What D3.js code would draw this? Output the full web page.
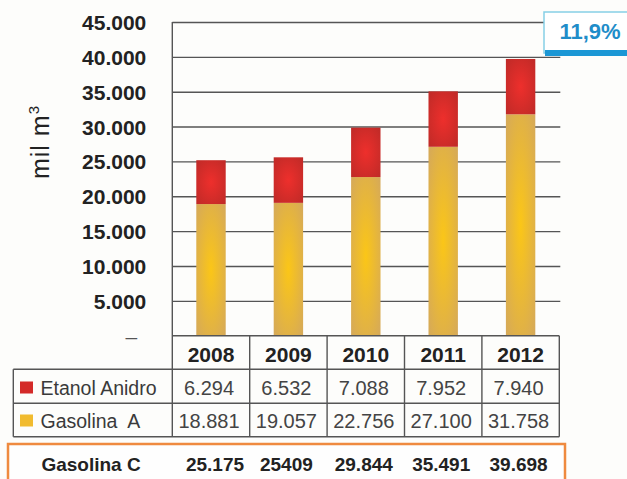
<!DOCTYPE html>
<html>
<head>
<meta charset="utf-8">
<script src="https://cdn.jsdelivr.net/npm/d3@7"></script>
<style>
  html, body { margin: 0; padding: 0; background: #fdfdfb; }
  svg { display: block; font-family: "Liberation Sans", Arial, sans-serif; }
</style>
</head>
<body>
<svg id="chart" width="627" height="479"></svg>
<script>
// Consumo de gasolina C (mil m³): gasolina A + etanol anidro
const years = ["2008", "2009", "2010", "2011", "2012"];
const etanolAnidro = [6294, 6532, 7088, 7952, 7940];
const gasolinaA = [18881, 19057, 22756, 27100, 31758];
const gasolinaCLabels = ["25.175", "25409", "29.844", "35.491", "39.698"];
const yTicks = [0, 5000, 10000, 15000, 20000, 25000, 30000, 35000, 40000, 45000];
const seriesNames = ["Etanol Anidro", "Gasolina  A"];
const growthLabel = "11,9%";

const ptBR = d3.formatLocale({ decimal: ",", thousands: ".", grouping: [3], currency: ["R$", ""] });
const fmt = ptBR.format(",d");

const svg = d3.select("#chart");

const plotLeft = 172.3, plotRight = 559.3, plotTop = 22, plotBase = 335.7;
const rowLines = [plotBase, 369.3, 403.3, 436.7];
const legendLeft = 13.3;
const ink = "#222", gridColor = "#555";

const x = d3.scaleBand().domain(years).range([plotLeft, plotRight]).paddingInner(0).paddingOuter(0);
const y = d3.scaleLinear().domain([0, 45000]).range([plotBase, plotTop]);

// gradients for the bar segments
const defs = svg.append("defs");
function radial(id, inner, outer) {
  const g = defs.append("radialGradient").attr("id", id)
    .attr("cx", "50%").attr("cy", "50%").attr("r", "72%");
  g.append("stop").attr("offset", "0%").attr("stop-color", inner);
  g.append("stop").attr("offset", "100%").attr("stop-color", outer);
}
radial("gGas", "#fbc617", "#d4a85c");
radial("gEta", "#ee2f2c", "#bd2a27");

// gridlines + tick labels
const yAxis = d3.axisLeft(y)
  .tickValues(yTicks)
  .tickSize(-(plotRight - plotLeft + 1))
  .tickPadding(26)
  .tickFormat(d => d === 0 ? "–" : fmt(d));

const gAxis = svg.append("g").attr("transform", `translate(${plotLeft},0)`).call(yAxis);
gAxis.select(".domain").remove();
gAxis.selectAll(".tick line").attr("stroke", gridColor).attr("stroke-width", 1.4);
gAxis.selectAll(".tick text")
  .attr("fill", ink)
  .attr("font-size", 21)
  .attr("font-weight", "bold")
  .attr("dy", "0.36em")
  .attr("font-family", "'Liberation Sans', Arial, sans-serif");
gAxis.selectAll(".tick").filter(d => d === 0).select("text")
  .attr("font-weight", "normal").attr("fill", "#555").attr("dx", -9);
gAxis.selectAll(".tick").filter(d => d === 0).select("line").remove();

// axis title
svg.append("text")
  .attr("transform", "translate(49,142) rotate(-90)")
  .attr("text-anchor", "middle")
  .attr("fill", ink)
  .attr("font-size", 25)
  .attr("letter-spacing", 1)
  .text("mil m")
  .append("tspan").attr("dy", -10).attr("font-size", 15).text("3");

// stacked bars
const bw = x.bandwidth() * 0.38;
const bars = svg.append("g");
years.forEach((yr, i) => {
  const bx = x(yr) + (x.bandwidth() - bw) / 2;
  bars.append("rect")
    .attr("x", bx).attr("width", bw)
    .attr("y", y(gasolinaA[i])).attr("height", y(0) - y(gasolinaA[i]))
    .attr("fill", "url(#gGas)");
  const t = gasolinaA[i] + etanolAnidro[i];
  bars.append("rect")
    .attr("x", bx).attr("width", bw)
    .attr("y", y(t)).attr("height", y(gasolinaA[i]) - y(t))
    .attr("fill", "url(#gEta)");
});

// data table lines
const tbl = svg.append("g").attr("stroke", gridColor).attr("stroke-width", 1.4).attr("fill", "none");
tbl.append("line").attr("x1", plotLeft).attr("x2", plotLeft).attr("y1", plotTop).attr("y2", rowLines[3]);
tbl.append("line").attr("x1", plotLeft).attr("x2", plotRight).attr("y1", plotBase).attr("y2", plotBase);
rowLines.slice(1).forEach(ly => {
  tbl.append("line").attr("x1", legendLeft).attr("x2", plotRight).attr("y1", ly).attr("y2", ly);
});
tbl.append("line").attr("x1", legendLeft).attr("x2", legendLeft).attr("y1", rowLines[1]).attr("y2", rowLines[3]);
years.forEach(yr => {
  const xr = x(yr) + x.bandwidth();
  tbl.append("line").attr("x1", xr).attr("x2", xr).attr("y1", plotBase).attr("y2", rowLines[3]);
});

// year header
const cx = yr => x(yr) + x.bandwidth() / 2;
svg.append("g").selectAll("text").data(years).join("text")
  .attr("x", d => cx(d)).attr("y", 361.7)
  .attr("text-anchor", "middle").attr("fill", ink)
  .attr("font-size", 21).attr("font-weight", "bold")
  .text(d => d);

// series rows
const rows = [
  { name: seriesNames[0], values: etanolAnidro, color: "#d42a28", baseline: 395 },
  { name: seriesNames[1], values: gasolinaA, color: "#f1bb2e", baseline: 428 }
];
rows.forEach(r => {
  svg.append("rect").attr("x", 20).attr("y", r.baseline - 13.5).attr("width", 13).attr("height", 12)
    .attr("fill", r.color);
  svg.append("text").attr("x", 40.5).attr("y", r.baseline)
    .attr("fill", "#3a3a3a").attr("font-size", 19.5)
    .style("white-space", "pre")
    .text(r.name);
  svg.append("g").selectAll("text").data(r.values).join("text")
    .attr("x", (d, i) => cx(years[i]) - 2).attr("y", r.baseline)
    .attr("text-anchor", "middle").attr("fill", "#444")
    .attr("font-size", 20)
    .text(d => fmt(d));
});

// gasolina C totals row
svg.append("rect")
  .attr("x", 8).attr("y", 444).attr("width", 557).attr("height", 60)
  .attr("fill", "#fefefe").attr("stroke", "#ef8a3f").attr("stroke-width", 2.5);
svg.append("text").attr("x", 91).attr("y", 471)
  .attr("text-anchor", "middle").attr("fill", ink)
  .attr("font-size", 19).attr("font-weight", "bold")
  .text("Gasolina C");
svg.append("g").selectAll("text").data(gasolinaCLabels).join("text")
  .attr("x", (d, i) => cx(years[i]) + (i === 0 ? 4 : -2)).attr("y", 471)
  .attr("text-anchor", "middle").attr("fill", ink)
  .attr("font-size", 19).attr("font-weight", "bold")
  .text(d => d);

// growth callout
const call = svg.append("g");
call.append("rect").attr("x", 544).attr("y", 12).attr("width", 90).attr("height", 41)
  .attr("fill", "#ffffff").attr("stroke", "#86cfe6").attr("stroke-width", 1.5);
call.append("rect").attr("x", 545).attr("y", 50).attr("width", 90).attr("height", 6)
  .attr("fill", "#1b97d5");
call.append("text").attr("x", 590).attr("y", 39)
  .attr("text-anchor", "middle").attr("fill", "#1f8dc9")
  .attr("font-size", 22).attr("font-weight", "bold")
  .text(growthLabel);
</script>
</body>
</html>
